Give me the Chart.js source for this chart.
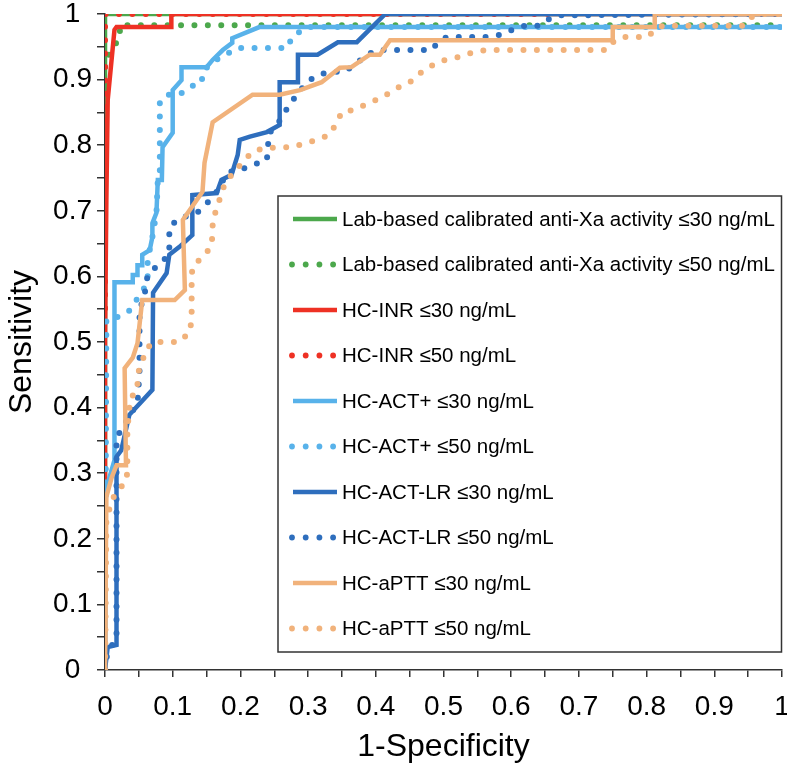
<!DOCTYPE html>
<html><head><meta charset="utf-8">
<script src="https://cdn.jsdelivr.net/npm/chart.js@4.4.1/dist/chart.umd.min.js"></script>
<style>html,body{margin:0;padding:0;background:#fff}#wrap{width:787px;height:768px;position:relative}</style>
</head><body><div id="wrap"><canvas id="c" width="787" height="768"></canvas></div>
<script>
// ---- data: [1-specificity, sensitivity] pairs ----
const seriesLabels = [
  'Lab-based calibrated anti-Xa activity \u226430 ng/mL',
  'Lab-based calibrated anti-Xa activity \u226450 ng/mL',
  'HC-INR \u226430 ng/mL',
  'HC-INR \u226450 ng/mL',
  'HC-ACT+ \u226430 ng/mL',
  'HC-ACT+ \u226450 ng/mL',
  'HC-ACT-LR \u226430 ng/mL',
  'HC-ACT-LR \u226450 ng/mL',
  'HC-aPTT \u226430 ng/mL',
  'HC-aPTT \u226450 ng/mL'
];
const seriesColors = ['#4ca84c','#4ca84c','#ee3124','#ee3124','#58b2ea','#58b2ea','#2e6ebd','#2e6ebd','#f1b27b','#f1b27b'];
const seriesDotted = [false,true,false,true,false,true,false,true,false,true];

const labXa30 = [[0,0],[0,1],[1,1]];
const labXa50 = [[0,0],[0,0.928],[0.022,0.965],[0.022,0.983],[1,0.983]];
const inr30 = [[0,0],[0,0.5],[0.002,0.716],[0.004,0.869],[0.014,0.976],[0.017,0.98],[0.098,0.98],[0.098,1],[1,1]];
const inr50 = [[0,0],[0,1],[1,1]];
const actPlus30 = [[0,0],[0,0.27],[0.014,0.32],[0.014,0.591],[0.041,0.591],[0.041,0.602],[0.048,0.602],[0.048,0.617],[0.055,0.617],[0.055,0.633],[0.066,0.64],[0.07,0.66],[0.07,0.681],[0.076,0.697],[0.078,0.747],[0.084,0.747],[0.085,0.797],[0.1,0.819],[0.1,0.884],[0.113,0.899],[0.113,0.919],[0.15,0.919],[0.159,0.93],[0.174,0.945],[0.188,0.956],[0.188,0.963],[0.228,0.98],[1,0.98]];
const actPlus50 = [[0,0],[0.002,0.534],[0.018,0.538],[0.032,0.544],[0.041,0.553],[0.048,0.567],[0.063,0.59],[0.063,0.625],[0.07,0.66],[0.076,0.697],[0.078,0.747],[0.081,0.762],[0.081,0.866],[0.091,0.877],[0.11,0.877],[0.125,0.889],[0.143,0.895],[0.144,0.912],[0.159,0.927],[0.177,0.937],[0.194,0.948],[0.27,0.948],[0.276,0.965],[0.288,0.973],[0.298,0.98],[1,0.98]];
const actLr30 = [[0,0],[0.004,0.035],[0.017,0.038],[0.017,0.325],[0.024,0.335],[0.036,0.389],[0.07,0.427],[0.071,0.575],[0.091,0.605],[0.095,0.633],[0.11,0.645],[0.129,0.663],[0.129,0.724],[0.165,0.727],[0.172,0.747],[0.187,0.755],[0.196,0.785],[0.199,0.808],[0.214,0.813],[0.239,0.82],[0.258,0.831],[0.258,0.896],[0.285,0.896],[0.285,0.938],[0.314,0.938],[0.344,0.957],[0.372,0.957],[0.414,1],[1,1]];
const actLr50 = [[0,0],[0.004,0.03],[0.017,0.046],[0.017,0.354],[0.026,0.37],[0.048,0.407],[0.051,0.453],[0.051,0.549],[0.058,0.569],[0.063,0.602],[0.081,0.62],[0.095,0.633],[0.095,0.674],[0.106,0.686],[0.137,0.698],[0.152,0.713],[0.165,0.729],[0.181,0.759],[0.199,0.762],[0.218,0.77],[0.239,0.777],[0.241,0.797],[0.241,0.816],[0.261,0.841],[0.27,0.858],[0.28,0.872],[0.298,0.896],[0.314,0.907],[0.335,0.912],[0.354,0.912],[0.372,0.925],[0.387,0.938],[0.403,0.945],[0.483,0.945],[0.491,0.956],[0.505,0.965],[0.564,0.965],[0.583,0.968],[0.602,0.976],[0.62,0.982],[0.64,0.982],[0.653,0.991],[0.669,0.998],[1,1]];
const aptt30 = [[0,0],[0.002,0.264],[0.01,0.294],[0.017,0.312],[0.031,0.312],[0.029,0.46],[0.041,0.476],[0.048,0.498],[0.055,0.564],[0.103,0.564],[0.118,0.579],[0.115,0.686],[0.144,0.729],[0.147,0.773],[0.159,0.835],[0.218,0.877],[0.258,0.877],[0.288,0.884],[0.32,0.896],[0.347,0.918],[0.364,0.919],[0.391,0.938],[0.406,0.938],[0.421,0.96],[0.75,0.96],[0.75,0.98],[0.812,0.98],[0.812,1],[1,1]];
const aptt50 = [[0,0],[0.002,0.229],[0.007,0.247],[0.014,0.267],[0.024,0.279],[0.032,0.29],[0.033,0.309],[0.033,0.37],[0.036,0.392],[0.036,0.412],[0.048,0.427],[0.048,0.45],[0.054,0.468],[0.061,0.488],[0.07,0.5],[0.11,0.5],[0.125,0.515],[0.128,0.534],[0.128,0.595],[0.129,0.614],[0.144,0.63],[0.157,0.645],[0.159,0.666],[0.159,0.686],[0.166,0.706],[0.172,0.727],[0.178,0.744],[0.191,0.759],[0.203,0.774],[0.218,0.79],[0.236,0.796],[0.276,0.797],[0.295,0.803],[0.313,0.808],[0.332,0.816],[0.342,0.834],[0.35,0.851],[0.369,0.854],[0.387,0.863],[0.403,0.87],[0.421,0.88],[0.435,0.889],[0.453,0.898],[0.468,0.912],[0.484,0.922],[0.502,0.93],[0.521,0.934],[0.542,0.941],[0.561,0.945],[0.741,0.945],[0.75,0.957],[0.764,0.965],[0.802,0.965],[0.812,0.976],[0.824,0.982],[0.942,0.982],[0.953,0.994],[0.964,1],[1,1]];

const seriesData = [labXa30, labXa50, inr30, inr50, actPlus30, actPlus50, actLr30, actLr50, aptt30, aptt50];
const axisMin = 0, axisMax = 1, tickStep = 0.05;
const xTitle = '1-Specificity', yTitle = 'Sensitivity';

const FONT = "'Liberation Sans', Arial, sans-serif";
const DOT_GAP = 13.4;

const datasets = seriesData.map((pts, i) => ({
  label: seriesLabels[i],
  data: pts.map(p => ({x: p[0], y: p[1]})),
  showLine: true,
  borderColor: seriesColors[i],
  backgroundColor: seriesColors[i],
  borderWidth: seriesDotted[i] ? 6 : 4.5,
  borderDash: seriesDotted[i] ? [0, DOT_GAP] : [],
  borderCapStyle: seriesDotted[i] ? 'round' : 'butt',
  borderJoinStyle: seriesDotted[i] ? 'round' : 'miter',
  pointRadius: 0,
  pointHoverRadius: 0,
  tension: 0,
  fill: false,
  order: seriesData.length - i
}));

const tickFmt = (value) => {
  const v = Math.round(value * 100);
  return v % 10 === 0 ? String(v / 100) : '';
};

const legendPlugin = {
  id: 'boxLegend',
  afterDraw(chart) {
    const ctx = chart.ctx;
    const x0 = 278, y0 = 196, x1 = 781.5, y1 = 652;
    ctx.save();
    ctx.fillStyle = '#fff';
    ctx.fillRect(x0, y0, x1 - x0, y1 - y0);
    ctx.strokeStyle = '#333';
    ctx.lineWidth = 1.5;
    ctx.strokeRect(x0, y0, x1 - x0, y1 - y0);
    ctx.font = "20.5px " + FONT;
    ctx.textBaseline = 'middle';
    const rowTop = 219, rowStep = 45.5;
    chart.data.datasets.forEach((ds, i) => {
      const y = rowTop + i * rowStep;
      ctx.strokeStyle = ds.borderColor;
      ctx.fillStyle = ds.borderColor;
      if (seriesDotted[i]) {
        for (let k = 0; k < 4; k++) {
          ctx.beginPath();
          ctx.arc(292 + k * 13.7, y, 2.9, 0, Math.PI * 2);
          ctx.fill();
        }
      } else {
        ctx.lineWidth = 4.5;
        ctx.beginPath();
        ctx.moveTo(293, y);
        ctx.lineTo(337, y);
        ctx.stroke();
      }
      ctx.fillStyle = '#000';
      ctx.fillText(ds.label, 342, y + 1);
    });
    ctx.restore();
  }
};

new Chart(document.getElementById('c'), {
  type: 'scatter',
  data: { datasets },
  plugins: [legendPlugin],
  options: {
    responsive: false,
    animation: false,
    devicePixelRatio: 1,
    layout: { padding: { top: 14, right: 5, bottom: 0, left: 0 } },
    plugins: { legend: { display: false }, tooltip: { enabled: false } },
    scales: {
      x: {
        type: 'linear', min: axisMin, max: axisMax,
        ticks: { stepSize: tickStep, autoSkip: false, maxRotation: 0, color: '#000', padding: 13,
                 font: { family: FONT, size: 28 }, callback: tickFmt },
        grid: { drawOnChartArea: false, drawTicks: true, tickLength: 7, color: '#333', lineWidth: 1.5 },
        border: { display: true, color: '#333', width: 1.5 },
        title: { display: true, text: xTitle, color: '#000', font: { family: FONT, size: 32 }, padding: { top: 0, bottom: 2 } },
        afterFit(s) { s.height = 98; s.paddingLeft = 0; s.paddingRight = 0; }
      },
      y: {
        type: 'linear', min: axisMin, max: axisMax,
        ticks: { stepSize: tickStep, autoSkip: false, color: '#000', padding: 5, crossAlign: 'center',
                 font: { family: FONT, size: 28 }, callback: tickFmt },
        grid: { drawOnChartArea: false, drawTicks: true, tickLength: 8, color: '#333', lineWidth: 1.5 },
        border: { display: true, color: '#333', width: 1.5 },
        title: { display: true, text: yTitle, color: '#000', font: { family: FONT, size: 32 }, padding: { top: 3, bottom: 0 } },
        afterFit(s) { s.width = 105; s.paddingTop = 0; s.paddingBottom = 0; }
      }
    }
  }
});
</script>
</body></html>
